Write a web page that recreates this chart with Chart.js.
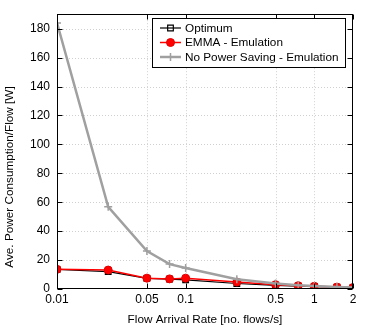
<!DOCTYPE html>
<html><head><meta charset="utf-8">
<script src="https://cdn.jsdelivr.net/npm/chart.js@4/dist/chart.umd.min.js"></script>
<style>html,body{margin:0;padding:0;background:#fff}#wrap{width:374px;height:327px;position:relative}</style>
</head><body><div id="wrap"><canvas id="c" width="374" height="327"></canvas></div>
<script>
const rates = [0.01, 0.025, 0.05, 0.075, 0.1, 0.25, 0.5, 0.75, 1, 1.5, 2];
const optimum = [13.5, 12.0, 7.3, 6.8, 6.3, 3.8, 2.5, 2.0, 1.7, 1.2, 0.9];
const emma = [13.6, 13.1, 7.5, 7.0, 7.5, 4.8, 3.0, 2.3, 1.9, 1.3, 1.0];
const noSaving = [184, 56.8, 26.3, 17.2, 14.5, 6.7, 3.8, 2.6, 2.1, 1.4, 1.1];
const xTicks = [0.01, 0.05, 0.1, 0.5, 1, 2];
const yTicks = [0, 20, 40, 60, 80, 100, 120, 140, 160, 180];
const seriesNames = ['Optimum', 'EMMA - Emulation', 'No Power Saving - Emulation'];
const xTitle = 'Flow Arrival Rate [no. flows/s]';
const yTitle = 'Ave. Power Consumption/Flow [W]';

const FONT = '"Liberation Sans", Arial, sans-serif';

const framePlugin = {
  id: 'frame',
  beforeDatasetsDraw(chart) {
    const {ctx, chartArea: a, scales: {x, y}} = chart;
    ctx.save();
    ctx.strokeStyle = '#d0d0d0';
    ctx.lineWidth = 1;
    ctx.setLineDash([1, 2]);
    xTicks.forEach(v => {
      const px = Math.round(x.getPixelForValue(v)) + 0.5;
      if (px < a.left + 2 || px > a.right - 2) return;
      ctx.beginPath(); ctx.moveTo(px, a.top); ctx.lineTo(px, a.bottom); ctx.stroke();
    });
    yTicks.forEach(v => {
      const py = Math.round(y.getPixelForValue(v)) + 0.5;
      if (py > a.bottom - 2) return;
      ctx.beginPath(); ctx.moveTo(a.left, py); ctx.lineTo(a.right, py); ctx.stroke();
    });
    ctx.restore();
  },
  afterDatasetsDraw(chart) {
    const {ctx, chartArea: a, scales: {x, y}} = chart;
    ctx.save();
    ctx.strokeStyle = '#000';
    ctx.lineWidth = 1;
    ctx.setLineDash([]);
    const L = Math.round(a.left) + 0.5, R = Math.round(a.right) - 0.5;
    const T = Math.round(a.top) + 0.5, B = Math.round(a.bottom) - 0.5;
    ctx.strokeRect(L, T, R - L, B - T);
    const tl = 5;
    ctx.beginPath();
    xTicks.forEach(v => {
      const px = Math.round(x.getPixelForValue(v)) + 0.5;
      ctx.moveTo(px, B); ctx.lineTo(px, B - tl);
      ctx.moveTo(px, T); ctx.lineTo(px, T + tl);
    });
    yTicks.forEach(v => {
      const py = Math.round(y.getPixelForValue(v)) + 0.5;
      ctx.moveTo(L, py); ctx.lineTo(L + tl, py);
      ctx.moveTo(R, py); ctx.lineTo(R - tl, py);
    });
    ctx.stroke();
    ctx.restore();
  },
  afterDraw(chart) {
    const {ctx} = chart;
    ctx.save();
    // y axis title
    ctx.save();
    ctx.translate(9.5, 177);
    ctx.rotate(-Math.PI / 2);
    ctx.font = '11.75px ' + FONT;
    ctx.fillStyle = '#000';
    ctx.textAlign = 'center';
    ctx.textBaseline = 'middle';
    ctx.fillText(yTitle, 0, 0);
    ctx.restore();
    // legend
    const bx = 152.5, by = 18.5, bw = 193, bh = 49;
    ctx.fillStyle = '#fff';
    ctx.fillRect(bx, by, bw, bh);
    ctx.strokeStyle = '#000';
    ctx.lineWidth = 1;
    ctx.strokeRect(bx, by, bw, bh);
    const rows = [28, 42.5, 57];
    ctx.font = '11.75px ' + FONT;
    ctx.textBaseline = 'middle';
    ctx.textAlign = 'left';
    chart.data.datasets.forEach((ds, i) => {
      const yy = rows[i];
      ctx.strokeStyle = ds.borderColor;
      ctx.lineWidth = ds.borderWidth;
      ctx.beginPath(); ctx.moveTo(160, yy); ctx.lineTo(181, yy); ctx.stroke();
      ctx.fillStyle = ds.pointBackgroundColor;
      ctx.strokeStyle = ds.pointBorderColor;
      ctx.lineWidth = ds.pointBorderWidth;
      Chart.helpers.drawPoint(ctx, {
        pointStyle: ds.pointStyle, radius: ds.pointRadius, rotation: 0,
        borderWidth: ds.pointBorderWidth
      }, 170.5, yy);
      ctx.fillStyle = '#000';
      ctx.fillText(seriesNames[i], 185, yy + 0.5);
    });
    ctx.restore();
  }
};

const data = {
  datasets: [
    {
      label: seriesNames[0],
      data: rates.map((r, i) => ({x: r, y: optimum[i]})),
      borderColor: '#000000', backgroundColor: 'rgba(0,0,0,0)',
      borderWidth: 1.2, pointStyle: 'rect', pointRadius: 4,
      pointBorderWidth: 1.2, pointBackgroundColor: 'rgba(0,0,0,0)', pointBorderColor: '#000',
      order: 3
    },
    {
      label: seriesNames[1],
      data: rates.map((r, i) => ({x: r, y: emma[i]})),
      borderColor: '#ff0000', backgroundColor: '#ff0000',
      borderWidth: 1.5, pointStyle: 'circle', pointRadius: 4,
      pointBorderWidth: 1, pointBackgroundColor: '#ff0000', pointBorderColor: '#e00000',
      order: 2
    },
    {
      label: seriesNames[2],
      data: rates.map((r, i) => ({x: r, y: noSaving[i]})),
      borderColor: '#a0a0a0', backgroundColor: '#a0a0a0',
      borderWidth: 2.5, pointStyle: 'cross', pointRadius: 4,
      pointBorderWidth: 1.5, pointBackgroundColor: '#a0a0a0', pointBorderColor: '#a0a0a0',
      order: 1
    }
  ]
};

new Chart(document.getElementById('c'), {
  type: 'line',
  data,
  plugins: [framePlugin],
  options: {
    responsive: false,
    animation: false,
    devicePixelRatio: 1,
    layout: {padding: {top: 14, right: 21, left: 0, bottom: 0}},
    plugins: {legend: {display: false}, tooltip: {enabled: false}},
    elements: {line: {tension: 0}},
    scales: {
      x: {
        type: 'logarithmic', min: 0.01, max: 2,
        grid: {display: false, drawTicks: false}, border: {display: false},
        afterBuildTicks: s => { s.ticks = xTicks.map(v => ({value: v})); },
        afterFit: s => { s.height = 38; },
        ticks: {
          autoSkip: false, maxRotation: 0, padding: 3, color: '#000',
          font: {family: FONT, size: 12},
          callback: v => String(v)
        },
        title: {display: true, text: xTitle, color: '#000',
          font: {family: FONT, size: 11.75}, padding: {top: 4, bottom: 0}}
      },
      y: {
        type: 'linear', min: 0, max: 190,
        grid: {display: false, drawTicks: false}, border: {display: false},
        afterBuildTicks: s => { s.ticks = yTicks.map(v => ({value: v})); },
        afterFit: s => { s.width = 57; },
        ticks: {
          autoSkip: false, padding: 7, color: '#000',
          font: {family: FONT, size: 12}
        },
        title: {display: false}
      }
    }
  }
});
</script>
</body></html>
